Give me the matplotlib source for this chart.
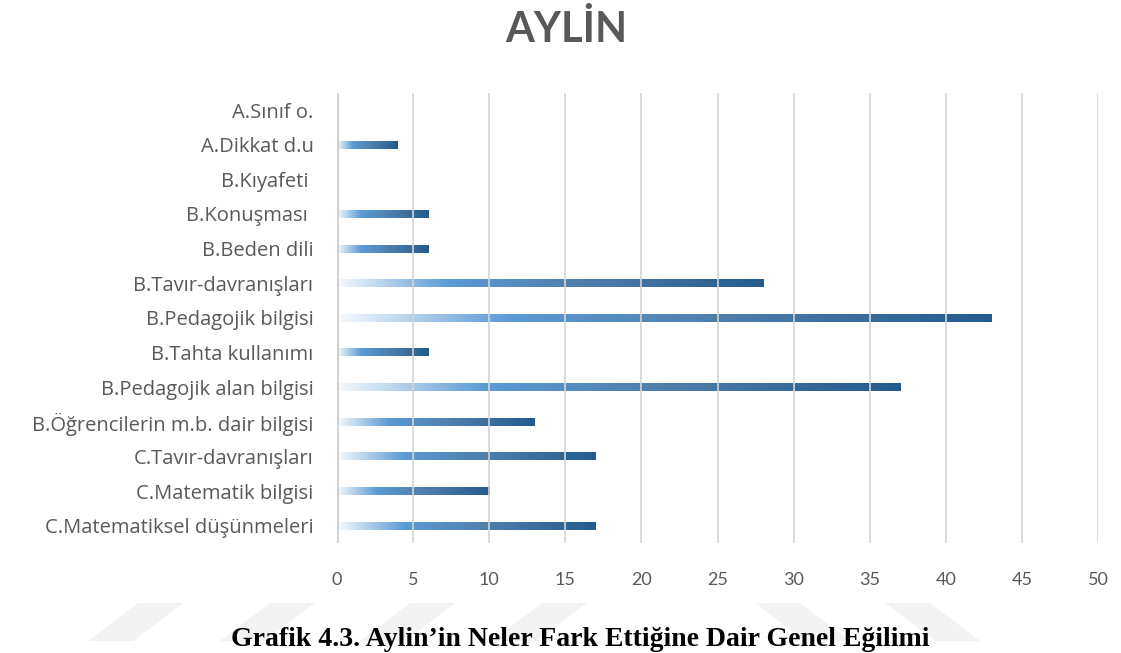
import numpy as np
import matplotlib
matplotlib.use("Agg")
import matplotlib.pyplot as plt
from matplotlib.colors import LinearSegmentedColormap
from matplotlib.patches import Polygon

categories = [
    "A.Sınıf o.",
    "A.Dikkat d.u",
    "B.Kıyafeti ",
    "B.Konuşması ",
    "B.Beden dili",
    "B.Tavır-davranışları",
    "B.Pedagojik bilgisi",
    "B.Tahta kullanımı",
    "B.Pedagojik alan bilgisi",
    "B.Öğrencilerin m.b. dair bilgisi",
    "C.Tavır-davranışları",
    "C.Matematik bilgisi",
    "C.Matematiksel düşünmeleri",
]
values = [0, 4, 0, 6, 6, 28, 43, 6, 37, 13, 17, 10, 17]
x_ticks = [0, 5, 10, 15, 20, 25, 30, 35, 40, 45, 50]
title = "AYLİN"
caption = "Grafik 4.3. Aylin’in Neler Fark Ettiğine Dair Genel Eğilimi"

W, H = 1121, 653
fig = plt.figure(figsize=(W / 100, H / 100), dpi=100)
fig.patch.set_facecolor("white")

# faint chevron watermark behind the caption
def chevron(x0, lean):
    y_top, y_bot = 1 - 603 / H, 1 - 641 / H
    w, s = 45 / W, 50 / W
    if lean > 0:
        pts = [(x0 + s, y_top), (x0 + s + w, y_top), (x0 + w, y_bot), (x0, y_bot)]
    else:
        pts = [(x0, y_top), (x0 + w, y_top), (x0 + s + w, y_bot), (x0 + s, y_bot)]
    fig.patches.append(Polygon(pts, closed=True, transform=fig.transFigure,
                               facecolor="#f3f3f3", edgecolor="none", zorder=0))

for px in (88, 220, 360, 492):
    chevron(px / W, 1)
for px in (755, 885):
    chevron(px / W, -1)

ax = fig.add_axes([337 / W, 1 - 543 / H, (1098 - 337) / W, (543 - 92.7) / H])
ax.set_facecolor("none")

cmap = LinearSegmentedColormap.from_list(
    "bar_grad",
    [(0.0, "#f7fafd"), (0.26, "#5b9bd5"), (0.58, "#4f7eab"), (1.0, "#245b8e")],
)
grad = np.linspace(0, 1, 256).reshape(1, -1)

bar_h = 0.23
ypos = np.arange(len(categories))
for y, v in zip(ypos, values):
    if v <= 0:
        continue
    ax.imshow(grad, cmap=cmap, aspect="auto", interpolation="bilinear",
              extent=[0, v, y + bar_h / 2, y - bar_h / 2], zorder=1)

ax.set_xlim(0, 50)
ax.set_ylim(len(categories) - 0.5, -0.5)
ax.set_xticks(x_ticks)
ax.set_yticks(ypos)
ax.set_yticklabels(categories)

for xv in x_ticks:
    ax.axvline(xv, color="#c8c8c8" if xv == 0 else "#d4d4d4",
               lw=2.0 if xv == 0 else 1.4, alpha=0.85, zorder=3)

for sp in ax.spines.values():
    sp.set_visible(False)
ax.tick_params(axis="both", length=0, colors="#595959")
ax.tick_params(axis="x", pad=21, labelsize=13)
ax.tick_params(axis="y", pad=17, labelsize=14.5)
for lab in ax.get_xticklabels():
    lab.set_fontfamily("Lato")
    lab.set_color("#595959")
for lab in ax.get_yticklabels():
    lab.set_fontfamily("Open Sans")
    lab.set_color("#595959")

fig.text(566 / W, 1 - 30 / H, title, ha="center", va="center",
         fontsize=30, fontweight="bold", family="Lato", color="#595959")
fig.text(580 / W, 1 / H, caption, ha="center", va="bottom",
         fontsize=20, fontweight="bold", family="Liberation Serif", color="black")

fig.savefig("out.png", dpi=100, facecolor="white")
